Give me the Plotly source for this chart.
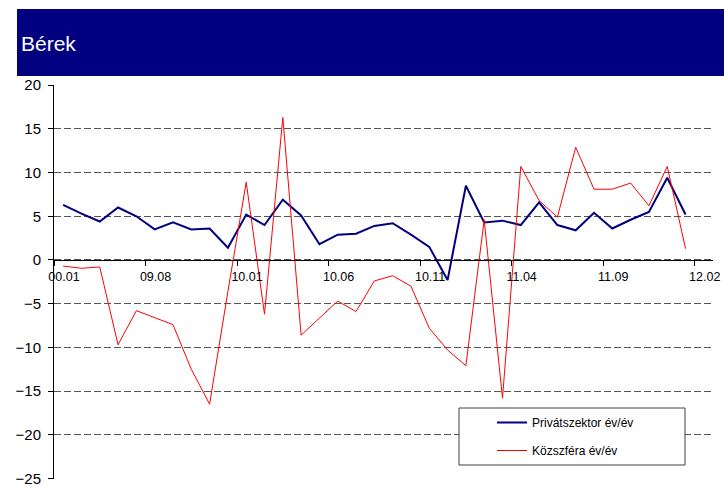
import plotly.graph_objects as go

# Monthly categories (first label as printed on the original axis)
tick_labels = ["00.01", "09.08", "10.01", "10.06", "10.11", "11.04", "11.09", "12.02"]
y_ticks = [-25, -20, -15, -10, -5, 0, 5, 10, 15, 20]

privat = [6.3, 5.3, 4.4, 6.0, 5.0, 3.5, 4.3, 3.5, 3.6, 1.4,
          5.2, 4.0, 6.9, 5.1, 1.8, 2.9, 3.0, 3.9, 4.2, 2.9,
          1.5, -2.3, 8.5, 4.3, 4.5, 4.0, 6.6, 4.0, 3.4, 5.4,
          3.6, 4.6, 5.5, 9.4, 5.2]

kozszfera = [-0.7, -0.95, -0.8, -9.7, -5.8, -6.6, -7.4, -12.5, -16.5, -3.6,
             8.9, -6.2, 16.3, -8.6, -6.6, -4.7, -5.9, -2.4, -1.8, -3.0,
             -7.8, -10.3, -12.1, 4.6, -15.8, 10.7, 6.8, 4.9, 12.9, 8.1,
             8.1, 8.8, 6.2, 10.7, 1.3]

n_cat = 36
x = list(range(len(privat)))
font = "Liberation Sans, Arial, sans-serif"

fig = go.Figure()
fig.add_trace(go.Scatter(x=x, y=privat, mode="lines", name="Privátszektor év/év",
                         line=dict(color="#000080", width=2), legendgroup="a"))
fig.add_trace(go.Scatter(x=x, y=kozszfera, mode="lines", name="Közszféra év/év",
                         line=dict(color="#FF0000", width=1), legendgroup="b"))

W, H = 724, 487
ml, mr, mt, mb = 54, 11, 85, 8
pw, ph = W - ml - mr, H - mt - mb

def px(xp):
    return (xp - ml) / pw

def py(yp):
    return (H - mb - yp) / ph

ymin, ymax = -25.06, 20.02

fig.update_layout(
    width=W, height=H,
    margin=dict(l=ml, r=mr, t=mt, b=mb, autoexpand=False),
    paper_bgcolor="white", plot_bgcolor="white",
    font=dict(family=font, color="black"),
    showlegend=True,
    legend=dict(x=px(492), y=py(408), xanchor="left", yanchor="top",
                bgcolor="rgba(0,0,0,0)", font=dict(size=12, family=font),
                tracegroupgap=9, traceorder="grouped"),
    xaxis=dict(range=[-0.5, n_cat - 0.5],
               tickvals=[i - 0.5 for i in range(0, n_cat, 5)],
               ticktext=tick_labels,
               ticklabelshift=10,
               ticks="outside", ticklen=5, tickcolor="black",
               showline=True, linecolor="black", linewidth=1,
               showgrid=False, zeroline=False, automargin=False,
               anchor="free", position=(0 - ymin) / (ymax - ymin),
               tickfont=dict(size=12.5, family=font)),
    yaxis=dict(range=[ymin, ymax], tickvals=y_ticks,
               ticks="outside", ticklen=5, tickcolor="black",
               ticklabelstandoff=4, automargin=False,
               showline=True, linecolor="black", linewidth=1,
               showgrid=True, gridcolor="#555555", griddash="7px,3px", gridwidth=1,
               zeroline=False, tickfont=dict(size=15, family=font)),
    shapes=[
        dict(type="rect", xref="paper", yref="paper",
             x0=px(17), x1=px(724), y0=py(76), y1=py(9),
             fillcolor="#000080", line=dict(width=0), layer="above"),
        dict(type="rect", xref="paper", yref="paper",
             x0=px(459), x1=px(685), y0=py(465), y1=py(408),
             fillcolor="white", line=dict(color="#404040", width=1), layer="above"),
    ],
    annotations=[
        dict(text="Bérek", xref="paper", yref="paper", x=px(19), y=py(43),
             xanchor="left", yanchor="middle", showarrow=False,
             font=dict(size=21, color="white", family=font)),
    ],
)

fig.write_html("out.html")
